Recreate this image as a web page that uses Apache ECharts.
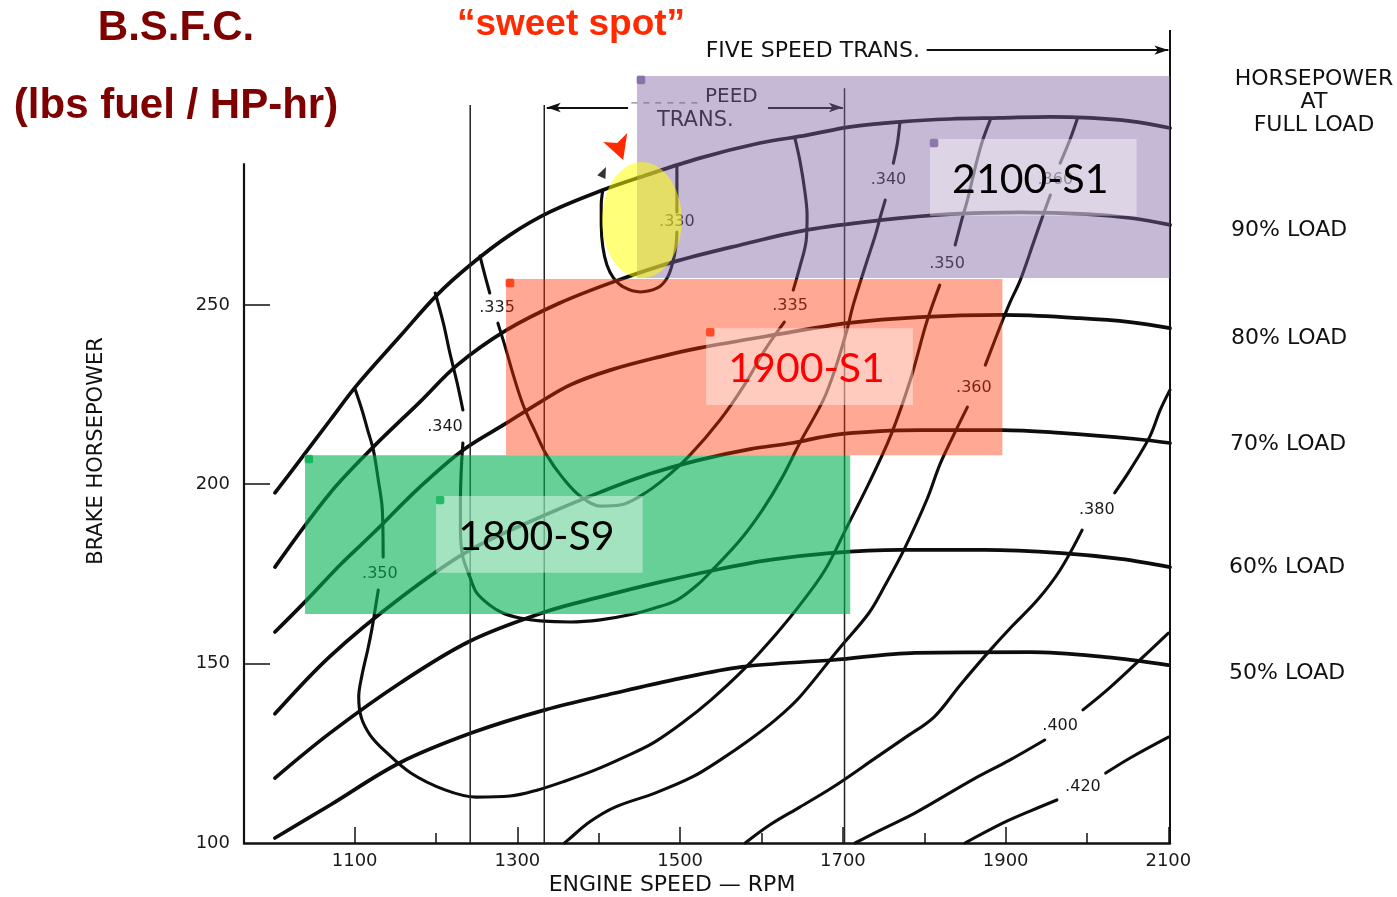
<!DOCTYPE html>
<html><head><meta charset="utf-8">
<script src="https://cdn.jsdelivr.net/npm/echarts@6/dist/echarts.min.js"></script>
<style>html,body{margin:0;padding:0;background:#fff}#c{width:1397px;height:897px}</style>
</head><body><div id="c"></div>
<script>
// ---------- axes ----------
const xMin = 964, xMax = 2102, yMin = 100, yMax = 328;
const xTickMajor = [1100,1300,1500,1700,1900,2100];
const xTickMinor = [1200,1400,1600,1800,2000];
const yTickLabels = [100,150,200,250];
const yTickMarks = [150,200,250];

// ---------- load curves (rpm, brake hp) ----------
const fullLoadRpm = [1002,1033,1070,1103,1156,1201,1242,1291,1340,1405,1451,1524,1598,1656,1709,1770,1832,1893,1955,2004,2053,2102];
const fullLoadHp  = [197.6,206.8,217.9,227.7,241.3,252.7,261.1,269.5,275.9,282.0,285.6,290.9,295.1,297.3,299.6,301.0,301.8,302.1,302.4,302.1,301.2,299.3];
const load90Rpm = [1002,1070,1123,1180,1226,1287,1352,1418,1491,1574,1656,1746,1832,1918,2000,2053,2102];
const load90Hp  = [176.9,197.6,210.4,222.9,233.2,243.0,250.5,256.4,261.9,266.7,270.9,273.6,275.3,275.8,275.3,274.2,272.3];
const load80Rpm = [1002,1041,1082,1123,1180,1233,1287,1328,1365,1414,1475,1524,1623,1705,1795,1896,1991,2053,2102];
const load80Hp  = [158.8,167.7,177.5,186.4,199.2,209.5,217.1,222.9,227.7,231.8,235.5,238.0,241.9,244.9,246.6,247.2,246.3,245.2,243.5];
const load70Rpm = [1002,1070,1156,1242,1340,1402,1463,1524,1586,1638,1688,1746,1797,1896,1967,2060,2102];
const load70Hp  = [136.0,152.1,168.3,181.7,192.0,197.8,202.9,206.8,209.8,211.5,213.7,214.8,215.1,215.1,214.3,212.6,211.5];
const load60Rpm = [1002,1070,1156,1242,1334,1402,1475,1543,1610,1684,1770,1875,1969,2041,2102];
const load60Hp  = [118.1,130.7,144.6,156.3,164.4,168.6,172.7,176.1,178.9,180.8,181.7,181.7,180.8,179.2,176.9];
const load50Rpm = [1002,1070,1155,1244,1334,1420,1490,1576,1688,1789,1930,2023,2100];
const load50Hp  = [101.4,110.6,122.3,130.7,137.1,141.8,145.4,149.1,151.0,153.0,153.2,151.8,149.6];

// ---------- BSFC iso-lines (null = gap for label) ----------
const bsfc330Rpm = [1405,1403,1403,1405,1410,1418,1430,1451,1472,1484,1491,1495,1496,null,1496,1496,1496];
const bsfc330Hp  = [282.0,277.8,272.3,266.1,261.1,257.5,255.0,253.6,254.7,257.5,261.9,266.7,270.3,null,275.9,282.0,288.4];
const bsfc335Rpm = [1254,1260,1266,null,1276,1285,1295,1307,1322,1336,1356,1377,1402,1426,1451,1479,1512,1549,1579,1604,1628,null,1639,1647,1655,1656,1653,1647,1641];
const bsfc335Hp  = [263.6,258.3,253.3,null,244.9,238.3,230.4,222.1,214.6,208.1,201.7,196.7,193.9,194.2,196.7,201.2,208.1,217.9,227.7,237.4,245.2,null,254.1,260.5,268.1,275.0,282.0,290.4,296.5];
const bsfc340Rpm = [1199,1209,1217,1226,1233,null,1233,1231,1230,1230,1233,1242,1250,1266,1282,1303,1328,1365,1402,1438,1469,1496,1521,1543,1574,1601,1625,1647,1676,1690,1705,1712,1721,1730,1740,1746,1752,null,1762,1767,1770];
const bsfc340Hp  = [253.3,244.9,236.6,228.2,220.7,null,211.5,204.0,195.6,187.2,179.7,173.9,169.7,166.3,164.1,162.7,161.9,161.6,162.2,163.6,165.5,167.7,171.9,176.9,184.5,192.8,201.7,211.5,223.5,231.8,243.0,249.4,256.1,262.5,269.5,274.5,279.2,null,289.5,295.1,300.7];
const bsfc350Rpm = [1100,1109,1116,1123,1129,1134,1135,null,1129,1125,1121,1116,1109,1105,1108,1119,1136,1169,1211,1249,1291,1325,1359,1395,1432,1467,1504,1538,1580,1617,1647,1678,1705,1731,1759,1783,1803,1819,null,1838,1846,1853,1859,1865,1872,1881];
const bsfc350Hp  = [226.8,220.7,215.1,209.5,201.2,192.8,179.7,null,170.5,164.9,159.4,153.8,146.8,140.7,135.1,130.1,125.9,119.5,114.8,112.8,113.1,114.8,117.3,120.3,124.0,127.9,133.7,139.9,148.8,158.0,166.3,176.1,188.1,199.8,213.7,229.1,245.2,255.5,null,266.7,273.6,279.2,284.8,290.4,296.0,301.5];
const bsfc360Rpm = [1988,1979,1967,null,1955,1946,1934,1918,1905,1893,1875,null,1853,1835,1819,1803,1775,1752,1732,1694,1647,1617,1585,1549,1515,1469,1420,1389,1362,1358];
const bsfc360Hp  = [301.8,296.0,289.5,null,280.6,275.0,267.2,256.9,250.5,243.8,233.2,null,221.5,213.2,205.4,195.6,181.7,171.9,164.1,153.8,140.7,134.3,128.7,123.1,118.4,113.9,110.0,105.9,100.8,100];
const bsfc380Rpm = [2102,2090,2077,2053,2034,null,1994,1967,1939,1907,1878,1844,1812,1776,1742,1688,1647,1610,1580];
const bsfc380Hp  = [226.3,220.7,213.2,204.0,197.6,null,187.2,176.1,167.7,160.2,153.0,144.0,135.1,129.3,124.0,115.6,110.0,105.0,100];
const bsfc400Rpm = [2100,2061,2022,1995,null,1948,1905,1859,1789,1746,1715];
const bsfc400Hp  = [158.5,150.2,142.1,137.1,null,128.7,123.1,117.6,108.4,103.6,100];
const bsfc420Rpm = [2100,2053,2023,null,1963,1930,1897,1850];
const bsfc420Hp  = [129.5,123.7,119.5,null,112.0,108.9,105.6,100];

const bsfcLabelText = ['.330','.335','.335','.340','.340','.350','.350','.360','.360','.380','.400','.420'];
const bsfcLabelRpm  = [1496,1275,1635,1211,1756,1131,1828,1961,1861,2012,1967,1995];
const bsfcLabelHp   = [273.1,249.1,249.7,216.0,284.8,175.0,261.4,284.8,226.8,192.8,132.6,115.6];

// ---------- frame / transmission lines ----------
const transLineRpm = [1242,1333,1702];
const transLineTopHp = [305.7,305.7,310.4];
const leftAxisTopHp = 289.5;
const rightFrameRpm = 2102, rightFrameTopHp = 326.6;
const fiveSpeedRpm = [1803,2100], fiveSpeedHp = 321.0;
const sixSpeedLeftRpm = [1436,1336], sixSpeedRightRpm = [1608,1700], sixSpeedHp = 305.0;
const sixSpeedDashRpm = [1440,1524], sixSpeedDashHp = 306.3;

// ---------- operating zones ----------
const zoneNames = ['2100-S1','1900-S1','1800-S9'];
const zoneRpmFrom = [1447,1286,1039];
const zoneRpmTo   = [2102,1896,1709];
const zoneHpTop   = [313.8,257.2,208.1];
const zoneHpBot   = [257.5,208.1,163.8];
const boxRpmFrom = [1807,1532,1200];
const boxRpmTo   = [2061,1786,1454];
const boxHpTop   = [296.2,243.5,196.7];
const boxHpBot   = [274.8,222.1,175.3];
const sweetRpm = 1453, sweetHp = 273.6, sweetRpmR = 49, sweetHpR = 16.2;
const sweetArrowTipRpm = 1430, sweetArrowTipHp = 290.4;
const blobRpm = 1406, blobHp = 287.0;

// ---------- styles ----------
const zoneFill = ['rgba(128,100,162,0.45)','rgba(255,51,0,0.42)','rgba(0,176,80,0.6)'];
const zoneMark = ['#7a5f9e','#ff2a00','#00b050'];
const zoneTextColor = ['#000','#ff0000','#000'];
const FONT = '"DejaVu Sans", "Liberation Sans", sans-serif';
const arrowShape = [[0,0],[4,-27],[-6,-17],[-20,-18]]; // px offsets from tip

function curveSeries(rpm, hp, width){
  const segs=[]; let seg=[];
  for(let i=0;i<rpm.length;i++){
    if(rpm[i]===null){ if(seg.length) segs.push(seg); seg=[]; }
    else seg.push([rpm[i],hp[i]]);
  }
  if(seg.length) segs.push(seg);
  return segs.map(d=>({type:'line',data:d,smooth:0.35,symbol:'none',showSymbol:false,silent:true,z:2,
    lineStyle:{color:'#0d0d0d',width:width,cap:'round',join:'round'},clip:false}));
}
function straight(p1,p2,width,color,dash){
  return {type:'line',data:[p1,p2],symbol:'none',showSymbol:false,silent:true,z:2,clip:false,
    lineStyle:{color:color||'#111',width:width,type:dash||'solid'}};
}

const series = [];
[[fullLoadRpm,fullLoadHp],[load90Rpm,load90Hp],[load80Rpm,load80Hp],[load70Rpm,load70Hp],[load60Rpm,load60Hp],[load50Rpm,load50Hp]]
  .forEach(c=>series.push(...curveSeries(c[0],c[1],3.7)));
[[bsfc330Rpm,bsfc330Hp],[bsfc335Rpm,bsfc335Hp],[bsfc340Rpm,bsfc340Hp],[bsfc350Rpm,bsfc350Hp],[bsfc360Rpm,bsfc360Hp],[bsfc380Rpm,bsfc380Hp],[bsfc400Rpm,bsfc400Hp],[bsfc420Rpm,bsfc420Hp]]
  .forEach(c=>series.push(...curveSeries(c[0],c[1],3.1)));
transLineRpm.forEach((r,i)=>series.push(straight([r,yMin],[r,transLineTopHp[i]],1.5,'#222')));
series.push(straight([xMin,yMin],[xMin,leftAxisTopHp],2.2,'#111'));
series.push(straight([rightFrameRpm,yMin],[rightFrameRpm,rightFrameTopHp],2,'#111'));
series.push(straight([sixSpeedDashRpm[0],sixSpeedDashHp],[sixSpeedDashRpm[1],sixSpeedDashHp],1.5,'#999',[6,6]));
series.push({type:'line',data:[],silent:true,z:2,
  markLine:{silent:true,symbol:['none','arrow'],symbolSize:[7,14],animation:false,label:{show:false},
    lineStyle:{color:'#111',width:2,type:'solid'},
    data:[
      [{coord:[fiveSpeedRpm[0],fiveSpeedHp]},{coord:[fiveSpeedRpm[1],fiveSpeedHp]}],
      [{coord:[sixSpeedLeftRpm[0],sixSpeedHp]},{coord:[sixSpeedLeftRpm[1],sixSpeedHp]}],
      [{coord:[sixSpeedRightRpm[0],sixSpeedHp]},{coord:[sixSpeedRightRpm[1],sixSpeedHp]}]
    ]}});
// bsfc labels
series.push({type:'custom',silent:true,z:3,
  data:bsfcLabelText.map((t,i)=>[bsfcLabelRpm[i],bsfcLabelHp[i],i]),
  renderItem:(p,api)=>{const c=api.coord([api.value(0),api.value(1)]);const i=api.value(2);
    return {type:'text',x:c[0],y:c[1],style:{text:bsfcLabelText[i],fill:'#1a1a1a',font:'16px '+FONT,
      align:'center',verticalAlign:'middle',textAlign:'center',textVerticalAlign:'middle'}};}});
// zones
series.push({type:'custom',silent:true,z:5,
  data:zoneNames.map((n,i)=>[zoneRpmFrom[i],zoneHpTop[i],zoneRpmTo[i],zoneHpBot[i],i]),
  encode:{x:[0,2],y:[1,3]},
  renderItem:(p,api)=>{const a=api.coord([api.value(0),api.value(1)]);const b=api.coord([api.value(2),api.value(3)]);
    return {type:'rect',shape:{x:a[0],y:a[1],width:b[0]-a[0],height:b[1]-a[1]},style:{fill:zoneFill[api.value(4)]}};}});
// sweet spot ellipse
series.push({type:'custom',silent:true,z:6,data:[[sweetRpm,sweetHp,sweetRpmR,sweetHpR]],
  renderItem:(p,api)=>{const c=api.coord([api.value(0),api.value(1)]);const s=api.size([api.value(2),api.value(3)]);
    const pts=[];for(let k=0;k<72;k++){const t=k/72*Math.PI*2;pts.push([c[0]+s[0]*Math.cos(t),c[1]+s[1]*Math.sin(t)]);}
    return {type:'polygon',shape:{points:pts},style:{fill:'rgba(255,255,0,0.52)'}};}});
// label boxes
series.push({type:'custom',silent:true,z:7,
  data:zoneNames.map((n,i)=>[boxRpmFrom[i],boxHpTop[i],boxRpmTo[i],boxHpBot[i],i]),
  encode:{x:[0,2],y:[1,3]},
  renderItem:(p,api)=>{const a=api.coord([api.value(0),api.value(1)]);const b=api.coord([api.value(2),api.value(3)]);const i=api.value(4);
    return {type:'group',children:[
      {type:'rect',shape:{x:a[0],y:a[1],width:b[0]-a[0],height:b[1]-a[1]},style:{fill:'rgba(255,255,255,0.4)'}},
      {type:'text',x:(a[0]+b[0])/2-3,y:(a[1]+b[1])/2+2,style:{text:zoneNames[i],fill:zoneTextColor[i],font:'41px Lato, "Open Sans", sans-serif',
        align:'center',verticalAlign:'middle',textAlign:'center',textVerticalAlign:'middle'}}]};}});
// corner markers
const markerData=[];
zoneNames.forEach((n,i)=>{markerData.push({value:[zoneRpmFrom[i],zoneHpTop[i]],itemStyle:{color:zoneMark[i]}});
  markerData.push({value:[boxRpmFrom[i],boxHpTop[i]],itemStyle:{color:zoneMark[i]}});});
series.push({type:'scatter',silent:true,z:9,symbol:'roundRect',symbolSize:9,symbolOffset:[4,4],data:markerData,
  itemStyle:{borderColor:'rgba(255,255,255,0.5)',borderWidth:0.5}});
// red arrowhead pointing at the sweet spot
series.push({type:'custom',silent:true,z:9,data:[[sweetArrowTipRpm,sweetArrowTipHp]],
  renderItem:(p,api)=>{const c=api.coord([api.value(0),api.value(1)]);
    return {type:'polygon',shape:{points:arrowShape.map(o=>[c[0]+o[0],c[1]+o[1]])},style:{fill:'#ff2a00'}};}});
series.push({type:'scatter',silent:true,z:9,symbol:'triangle',symbolSize:[9,11],symbolRotate:-25,
  data:[[blobRpm,blobHp]],itemStyle:{color:'#000'}});

function txt(text,x,y,font,fill,align,extra){
  return Object.assign({type:'text',x:x,y:y,z:1,silent:true,style:{text:text,font:font,fill:fill||'#111',
    align:align||'center',verticalAlign:'middle',textAlign:align||'center',textVerticalAlign:'middle'}},extra||{});
}
const graphic=[
  txt('B.S.F.C.',176,28,'bold 42px "Liberation Sans", Arial, sans-serif','#7f0000'),
  txt('(lbs fuel / HP-hr)',176,106,'bold 42px "Liberation Sans", Arial, sans-serif','#7f0000'),
  txt('\u201csweet spot\u201d',571,25,'bold 37px "Liberation Sans", Arial, sans-serif','#ff2a00'),
  txt('FIVE SPEED TRANS.',920,51,'22px '+FONT,'#111','right'),
  txt('PEED',705,97,'20px '+FONT,'#111','left'),
  txt('TRANS.',657,121,'21px '+FONT,'#111','left'),
  txt('HORSEPOWER',1314,79,'22px '+FONT),
  txt('AT',1314,102,'22px '+FONT),
  txt('FULL LOAD',1314,125,'22px '+FONT),
  txt('90% LOAD',1231,230,'22px '+FONT,'#111','left'),
  txt('80% LOAD',1231,338,'22px '+FONT,'#111','left'),
  txt('70% LOAD',1230,444,'22px '+FONT,'#111','left'),
  txt('60% LOAD',1229,567,'22px '+FONT,'#111','left'),
  txt('50% LOAD',1229,673,'22px '+FONT,'#111','left'),
  txt('ENGINE SPEED \u2014 RPM',672,885,'22px '+FONT),
  txt('BRAKE HORSEPOWER',97,451,'21px '+FONT,'#111','center',{rotation:Math.PI/2})
];

const chart = echarts.init(document.getElementById('c'),null,{renderer:'canvas'});
chart.setOption({
  animation:false,
  backgroundColor:'#fff',
  grid:{left:244,top:25,width:926,height:818,containLabel:false},
  xAxis:[
    {type:'value',min:xMin,max:xMax,position:'bottom',
     axisLine:{show:true,lineStyle:{color:'#111',width:2.5}},
     axisTick:{show:true,inside:true,length:16,customValues:xTickMajor,lineStyle:{color:'#111',width:1.5}},
     axisLabel:{show:true,customValues:xTickMajor,margin:9,fontSize:18,fontFamily:'DejaVu Sans',color:'#1a1a1a',
       formatter:v=>String(v)},
     splitLine:{show:false}},
    {type:'value',min:xMin,max:xMax,position:'bottom',
     axisLine:{show:false},
     axisTick:{show:true,inside:true,length:10,customValues:xTickMinor,lineStyle:{color:'#111',width:1.5}},
     axisLabel:{show:false},splitLine:{show:false}}
  ],
  yAxis:{type:'value',min:yMin,max:yMax,
     axisLine:{show:false},
     axisTick:{show:true,inside:true,length:26,customValues:yTickMarks,lineStyle:{color:'#111',width:1.5}},
     axisLabel:{show:true,customValues:yTickLabels,margin:14,fontSize:18,fontFamily:'DejaVu Sans',color:'#1a1a1a',
       formatter:v=>String(v)},
     splitLine:{show:false}},
  graphic:graphic,
  series:series
});
</script></body></html>
